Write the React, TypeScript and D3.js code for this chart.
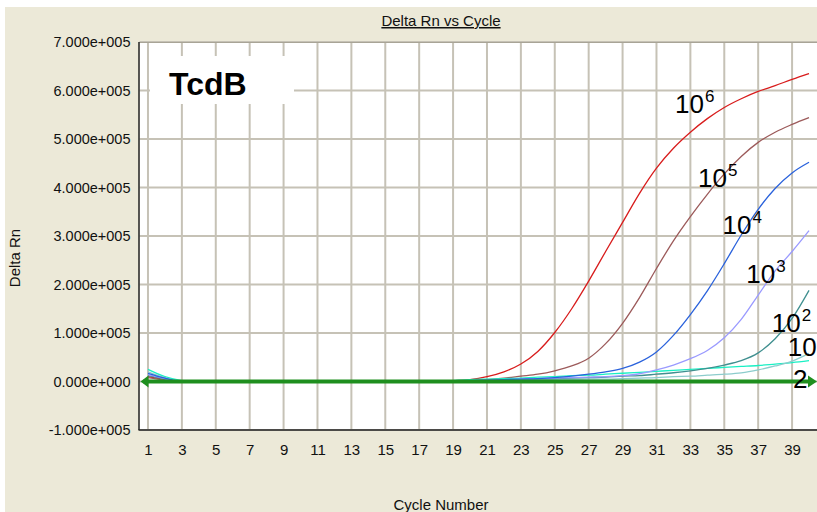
import * as d3 from 'd3'
import React, { useEffect, useRef } from 'react'

// cycle numbers on the x axis
const cycles = [
  1, 2, 3, 4, 5, 6, 7, 8, 9, 10, 11, 12, 13, 14, 15, 16, 17, 18, 19, 20,
  21, 22, 23, 24, 25, 26, 27, 28, 29, 30, 31, 32, 33, 34, 35, 36, 37, 38, 39, 40,
]

// delta Rn per cycle
const rn1e6 = [
  10000, 4000, 0, 0, 0, 0, 0, 0, 0, 0, 0, 0, 0, 0, 0, 0, 0, 0, 2000, 4000,
  10000, 20000, 36000, 62000, 101000, 150000, 207000, 268000, 328000, 388000,
  440000, 481000, 514000, 542000, 565000, 583000, 598000, 610000, 623000, 635000,
]
const rn1e5 = [
  8000, 3000, 0, 0, 0, 0, 0, 0, 0, 0, 0, 0, 0, 0, 0, 0, 0, 0, 1000, 2000,
  4000, 7000, 11000, 15000, 22000, 32000, 48000, 78000, 120000, 173000,
  233000, 290000, 340000, 386000, 428000, 464000, 493000, 514000, 530000, 544000,
]
const rn1e4 = [
  17000, 7000, 0, 0, 0, 0, 0, 0, 0, 0, 0, 0, 0, 0, 0, 0, 0, 0, 1000, 2000,
  3000, 4000, 5000, 6000, 8000, 11000, 15000, 20000, 27000, 40000,
  61000, 95000, 138000, 187000, 243000, 302000, 355000, 398000, 430000, 452000,
]
const rn1e3 = [
  14000, 6000, 0, 0, 0, 0, 0, 0, 0, 0, 0, 0, 0, 0, 0, 0, 0, 0, 1000, 2000,
  3000, 4000, 5000, 6000, 7000, 8000, 9000, 10000, 12000, 16000,
  24000, 34000, 47000, 64000, 90000, 128000, 178000, 228000, 268000, 311000,
]
const rn1e2 = [
  12000, 5000, 0, 0, 0, 0, 0, 0, 0, 0, 0, 0, 0, 0, 0, 0, 0, 0, 1000, 2000,
  2000, 3000, 4000, 5000, 6000, 7000, 8000, 9000, 11000, 12000,
  15000, 18000, 22000, 27000, 34000, 43000, 59000, 88000, 130000, 188000,
]
const rn10 = [
  20000, 8000, 0, 0, 0, 0, 0, 0, 0, 0, 0, 0, 0, 0, 0, 0, 0, 0, 1000, 1000,
  2000, 2000, 3000, 3000, 4000, 4000, 5000, 5000, 6000, 7000,
  8000, 10000, 11000, 13000, 15000, 18000, 24000, 32000, 42000, 58000,
]
const rn2 = [
  25000, 10000, 2000, 0, 0, 0, 0, 0, 0, 0, 0, 0, 0, 0, 0, 0, 0, 0, 2000, 4000,
  5000, 6000, 7000, 9000, 10000, 12000, 13000, 15000, 17000, 19000,
  21000, 23000, 25000, 27000, 29000, 31000, 33000, 36000, 39000, 43000,
]

const seriesList = [
  { values: rn1e6, color: '#d81c1c' },
  { values: rn1e5, color: '#9c5a5a' },
  { values: rn2, color: '#19f0c4' },
  { values: rn10, color: '#8ccccc' },
  { values: rn1e2, color: '#3f8f8f' },
  { values: rn1e3, color: '#9a9aff' },
  { values: rn1e4, color: '#2a62dc' },
]

const yTicks = [-100000, 0, 100000, 200000, 300000, 400000, 500000, 600000, 700000]
const xTicks = [1, 3, 5, 7, 9, 11, 13, 15, 17, 19, 21, 23, 25, 27, 29, 31, 33, 35, 37, 39]
const threshold = 0

// curve labels: text, exponent, anchor in data units
const labels = [
  { base: '10', sup: '6', cycle: 32.1, value: 554000 },
  { base: '10', sup: '5', cycle: 33.45, value: 401000 },
  { base: '10', sup: '4', cycle: 34.9, value: 304000 },
  { base: '10', sup: '3', cycle: 36.3, value: 203000 },
  { base: '10', sup: '2', cycle: 37.8, value: 102000 },
  { base: '10', sup: '', cycle: 38.75, value: 52000 },
  { base: '2', sup: '', cycle: 39.05, value: -14000 },
]

const W = 817
const H = 512
const bg = '#ece9d8'
const grid = '#c6c2b6'
const font = '"Liberation Sans", Arial, sans-serif'

function fmtExp(v) {
  if (v === 0) return '0.000e+000'
  const e = Math.floor(Math.log10(Math.abs(v)))
  const m = v / Math.pow(10, e)
  return `${m.toFixed(3)}e+${String(e).padStart(3, '0')}`
}

function App() {
  const svgRef = useRef(null)

  useEffect(() => {
    const svg = d3.select(svgRef.current)
    svg.selectAll('*').remove()

    const x = d3.scaleLinear().domain([0.5, 40.5]).range([139.5, 817.5])
    const y = d3.scaleLinear().domain([-100000, 700000]).range([430, 42])
    const left = x(0.5)
    const right = W
    const top = y(700000)
    const bottom = y(-100000)

    svg.append('rect').attr('width', W).attr('height', H).attr('fill', '#ffffff')
    svg.append('rect').attr('x', 5).attr('y', 7).attr('width', W).attr('height', H).attr('fill', bg)

    // plot area
    svg
      .append('rect')
      .attr('x', left)
      .attr('y', top)
      .attr('width', right - left)
      .attr('height', bottom - top)
      .attr('fill', '#ffffff')

    const gGrid = svg.append('g').attr('stroke', grid).attr('stroke-width', 2)
    gGrid
      .selectAll('line.v')
      .data(xTicks)
      .join('line')
      .attr('x1', (d) => x(d))
      .attr('x2', (d) => x(d))
      .attr('y1', top)
      .attr('y2', bottom)
    gGrid
      .selectAll('line.h')
      .data(yTicks)
      .join('line')
      .attr('x1', left)
      .attr('x2', right)
      .attr('y1', (d) => y(d))
      .attr('y2', (d) => y(d))

    // white box behind the title
    svg.append('rect').attr('x', 150).attr('y', 56).attr('width', 144).attr('height', 48).attr('fill', '#ffffff')
    svg
      .append('text')
      .attr('x', 169)
      .attr('y', 95)
      .attr('font-family', font)
      .attr('font-weight', 'bold')
      .attr('font-size', 32)
      .attr('fill', '#000')
      .text('TcdB')

    // frame
    svg.append('line').attr('x1', left).attr('x2', right).attr('y1', top + 0.5).attr('y2', top + 0.5).attr('stroke', '#a8a496')
    svg.append('line').attr('x1', left - 0.5).attr('x2', left - 0.5).attr('y1', top).attr('y2', bottom).attr('stroke', '#222').attr('stroke-width', 1.5)
    svg.append('line').attr('x1', left - 1).attr('x2', right).attr('y1', bottom).attr('y2', bottom).attr('stroke', '#222').attr('stroke-width', 1.5)

    // axes (labels only)
    const yAxis = d3.axisLeft(y).tickValues(yTicks).tickFormat(fmtExp).tickSize(0).tickPadding(9)
    const gy = svg.append('g').attr('transform', `translate(${left},0)`).call(yAxis)
    gy.select('.domain').remove()
    gy.selectAll('text').attr('font-family', font).attr('font-size', 14.5).attr('fill', '#111')

    const xAxis = d3.axisBottom(x).tickValues(xTicks).tickFormat(d3.format('d')).tickSize(0).tickPadding(14)
    const gx = svg.append('g').attr('transform', `translate(0,${bottom})`).call(xAxis)
    gx.select('.domain').remove()
    gx.selectAll('text').attr('font-family', font).attr('font-size', 15).attr('fill', '#111')

    // curves
    const lineGen = d3
      .line()
      .x((d, i) => x(cycles[i]))
      .y((d) => y(d))
      .curve(d3.curveMonotoneX)
    const gLines = svg.append('g').attr('fill', 'none').attr('stroke-width', 1.3)
    seriesList.forEach((s) => {
      gLines.append('path').attr('d', lineGen(s.values)).attr('stroke', s.color)
    })

    // threshold line with arrows
    const ty = y(threshold)
    svg
      .append('line')
      .attr('x1', left + 4)
      .attr('x2', right - 4)
      .attr('y1', ty)
      .attr('y2', ty)
      .attr('stroke', '#1f8f1f')
      .attr('stroke-width', 4)
    svg
      .append('path')
      .attr('d', `M${left + 1},${ty} L${left + 9},${ty - 6} L${left + 9},${ty + 6} Z`)
      .attr('fill', '#1f8f1f')
    svg
      .append('path')
      .attr('d', `M${right},${ty} L${right - 9},${ty - 6} L${right - 9},${ty + 6} Z`)
      .attr('fill', '#1f8f1f')

    // curve labels
    labels.forEach((l) => {
      const t = svg
        .append('text')
        .attr('x', x(l.cycle))
        .attr('y', y(l.value))
        .attr('font-family', font)
        .attr('font-size', 26)
        .attr('fill', '#000')
      t.append('tspan').text(l.base)
      if (l.sup) t.append('tspan').attr('dy', -11).attr('dx', 1).attr('font-size', 17).text(l.sup)
    })

    // titles
    svg
      .append('text')
      .attr('x', 441)
      .attr('y', 26)
      .attr('text-anchor', 'middle')
      .attr('font-family', font)
      .attr('font-size', 15)
      .attr('fill', '#111')
      .attr('text-decoration', 'underline')
      .text('Delta Rn vs Cycle')

    svg
      .append('text')
      .attr('transform', 'translate(20,258) rotate(-90)')
      .attr('text-anchor', 'middle')
      .attr('font-family', font)
      .attr('font-size', 15)
      .attr('fill', '#111')
      .text('Delta Rn')

    svg
      .append('text')
      .attr('x', 441)
      .attr('y', 510)
      .attr('text-anchor', 'middle')
      .attr('font-family', font)
      .attr('font-size', 15)
      .attr('fill', '#111')
      .text('Cycle Number')
  }, [])

  return (
    <svg
      ref={svgRef}
      width={W}
      height={H}
      style={{ position: 'absolute', left: 0, top: 0, display: 'block' }}
    />
  )
}

export default App
